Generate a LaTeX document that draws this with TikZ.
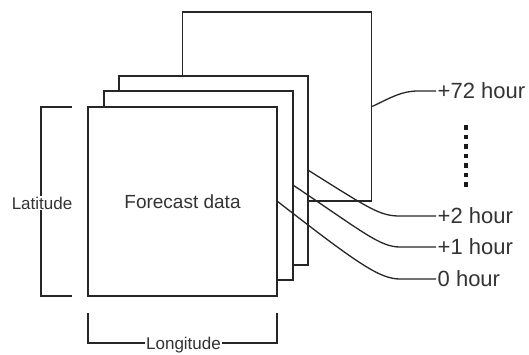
\documentclass[tikz,border=0pt]{standalone}
\usepackage{fontspec}
\setmainfont{Liberation Sans}
\usepackage{tikz}

\begin{document}
\begin{tikzpicture}[x=1pt,y=-1pt]

	\tikzstyle frame lines=[draw=black!85, line width=1.3pt, fill=white, minimum size=189pt, inner sep=0pt];
	\tikzstyle link lines=[black!85, line width=1.3pt];
	\tikzstyle hour label=[anchor=west, inner sep=1.5pt, text=black!80, font=\fontsize{22}{25}\selectfont];
	\tikzstyle axis label=[fill=white, inner sep=1pt, text=black!80, font=\fontsize{17}{20}\selectfont];

	\useasboundingbox (0,0) rectangle (529,354);

	% stacked time slices, back to front
	\foreach \name/\cx/\cy in {back/277/106.5,plustwo/213.5/170.5,plusone/198.5/185.5,zero/182.5/201.5}
		\node[frame lines] (\name) at (\cx,\cy) {};
	\node[text=black!80, font=\fontsize{19}{22}\selectfont] (data) at (zero) {Forecast data};

	\foreach \name/\y/\label in {h72/91/+72,h2/216/+2,h1/247/+1,h0/279/0}
		\node[hour label] (\name) at (436,\y) {\label\ hour};

	\draw[link lines] (back.east) .. controls (392,97) and (402,91) .. (418,91) -- (h72.west);
	\draw[link lines] (plustwo.east) .. controls (370,209) and (380,216) .. (400,216) -- (h2.west);
	\draw[link lines] (plusone.east) .. controls (363,232) and (380,247) .. (400,247) -- (h1.west);
	\draw[link lines] (zero.east) .. controls (358,264) and (380,279) .. (400,279) -- (h0.west);

	\foreach \i in {0,...,6}
		\fill[black!90] (464,{125+9.5*\i}) rectangle +(4,4.5);

	% axes
	\draw[link lines] (72,107) -- (41,107) -- (41,296) -- (72,296);
	\node[axis label] (lat) at (42,203) {Latitude};

	\draw[link lines] (88,313) -- (88,343) -- (277,343) -- (277,313);
	\node[axis label, anchor=base] (lon) at (183.5,349.5) {Longitude};

\end{tikzpicture}
\end{document}
